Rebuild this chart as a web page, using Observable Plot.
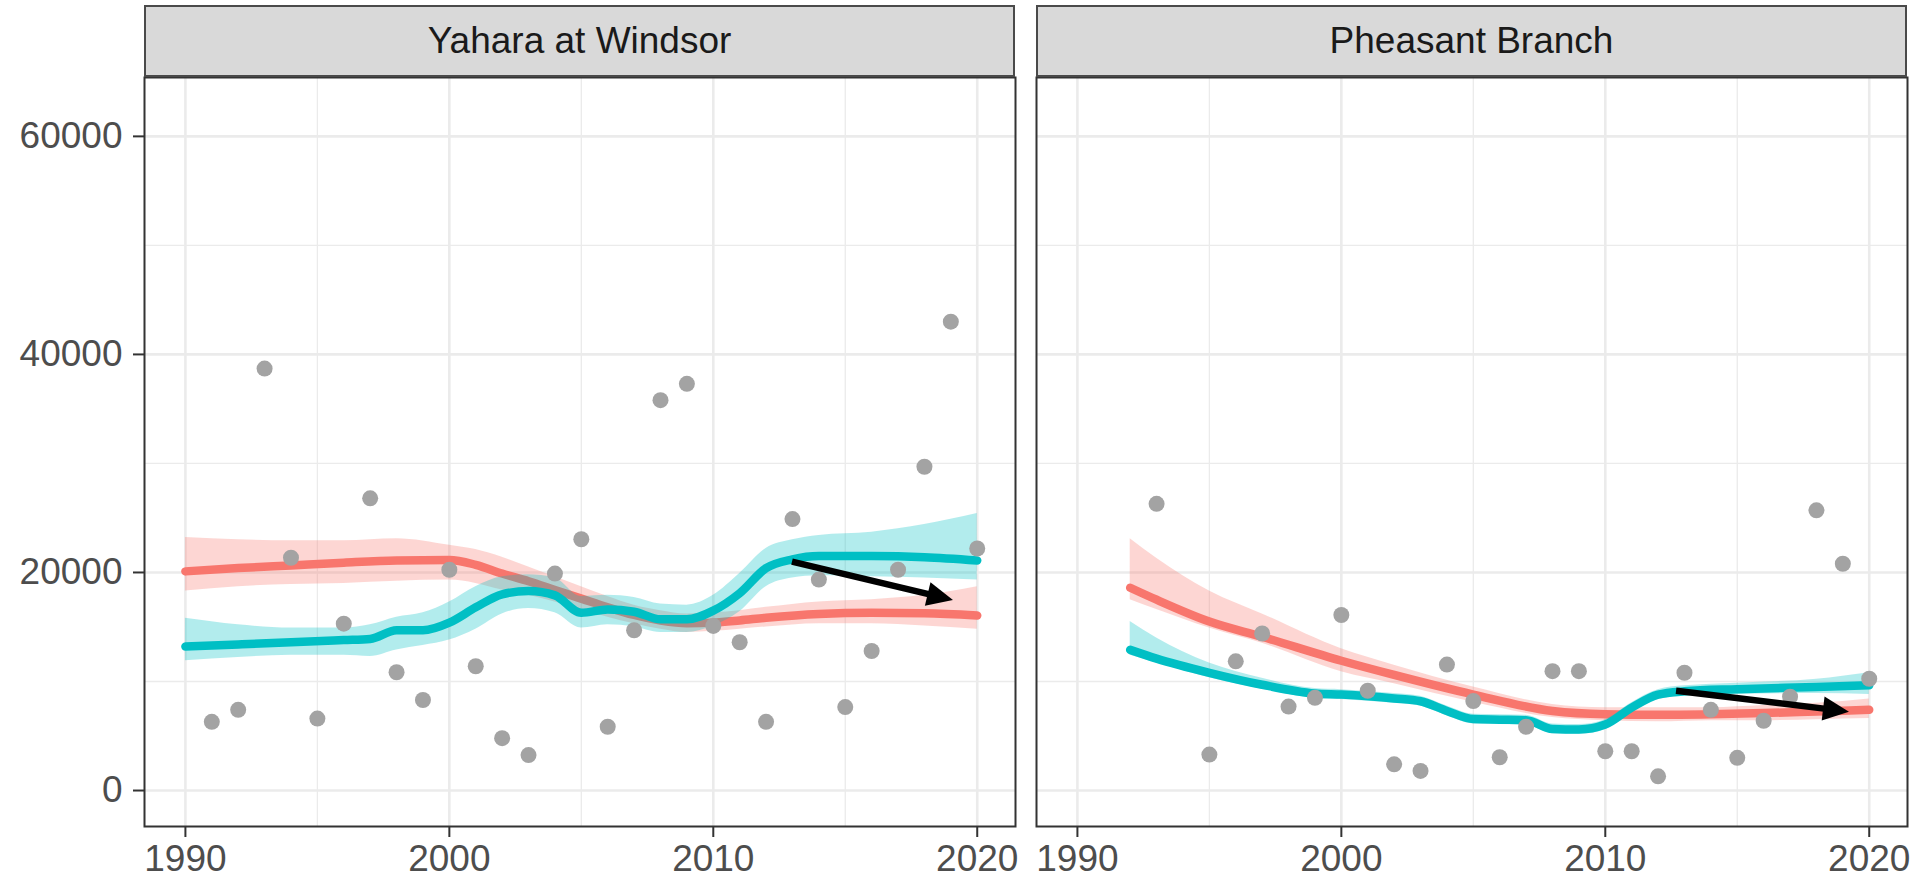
<!DOCTYPE html>
<html>
<head>
<meta charset="utf-8">
<script src="https://cdn.jsdelivr.net/npm/d3@7"></script>
<script src="https://cdn.jsdelivr.net/npm/@observablehq/plot@0.6"></script>
<style>
  body { margin: 0; background: #fff; font-family: "Liberation Sans", Arial, sans-serif; }
  #wrap { position: relative; width: 1921px; height: 879px; overflow: hidden; background: #fff; }
  .strip { position: absolute; top: 5px; height: 72px; box-sizing: border-box; background: #D9D9D9;
           border: 2px solid #4a4a4a; display: flex; align-items: center; justify-content: center;
           font-size: 37px; color: #1A1A1A; font-family: "Liberation Sans", Arial, sans-serif; }
  .panel { position: absolute; top: 77px; }
</style>
</head>
<body>
<div id="wrap"></div>
<script>
// ---------- data ----------
const sites = ["Yahara at Windsor", "Pheasant Branch"];

const xTicks = [1990, 2000, 2010, 2020];
const xMinorTicks = [1995, 2005, 2015];
const yTicks = [0, 20000, 40000, 60000];
const yMinorTicks = [10000, 30000, 50000];

// observed annual values (grey points)
const yaharaYears = [1991,1992,1993,1994,1995,1996,1997,1998,1999,2000,2001,2002,2003,2004,2005,2006,2007,2008,2009,2010,2011,2012,2013,2014,2015,2016,2017,2018,2019,2020];
const yaharaValues = [6300,7400,38700,21350,6600,15300,26800,10850,8300,20250,11400,4800,3250,19900,23050,5850,14700,35800,37300,15100,13600,6300,24900,19350,7650,12800,20250,29700,43000,22200];

const pheasantYears = [1993,1995,1996,1997,1998,1999,2000,2001,2002,2003,2004,2005,2006,2007,2008,2009,2010,2011,2012,2013,2014,2015,2016,2017,2018,2019,2020];
const pheasantValues = [26300,3300,11850,14400,7700,8500,16100,9150,2400,1800,11550,8200,3050,5850,10950,10950,3600,3600,1300,10800,7400,3000,6400,8600,25700,20800,10250];

// smoothed fits (red series)
const yaharaRedYears = [1990,1992,1994,1996,1998,2000,2001,2002,2003,2004,2005,2006,2007,2008,2009,2010,2011,2012,2014,2016,2018,2020];
const yaharaRedFit   = [20100,20400,20650,20900,21100,21150,20700,19900,19200,18400,17600,16800,16100,15600,15350,15400,15600,15850,16200,16300,16250,16050];
const yaharaRedLow   = [18300,18700,18900,19000,19200,19300,19000,18400,17900,17300,16600,15900,15300,14800,14500,14600,14800,15000,15300,15300,15100,14800];
const yaharaRedHigh  = [23200,23000,22900,22900,23100,22500,22100,21400,20500,19600,18700,17800,17000,16500,16200,16300,16500,16800,17300,17500,17900,18700];

// smoothed fits (teal series)
const yaharaTealYears = [1990,1992,1994,1996,1997,1998,1999,2000,2001,2002,2003,2004,2005,2006,2007,2008,2009,2010,2011,2012,2013,2014,2016,2018,2020];
const yaharaTealFit   = [13200,13400,13600,13800,13900,14700,14700,15400,16800,18000,18300,17900,16300,16600,16400,15700,15700,16500,18100,20400,21200,21500,21500,21400,21100];
const yaharaTealLow   = [11900,12200,12400,12400,12300,12900,13300,13800,14800,16200,16700,16300,14900,15200,15000,14500,14500,15100,16400,18700,19500,19700,19600,19500,19300];
const yaharaTealHigh  = [15800,15200,14900,14900,15200,15900,16300,17300,18700,19600,19800,19500,17800,17900,17700,17100,17000,17900,19900,22200,23000,23400,23700,24400,25400];

const pheasantRedYears = [1992,1993,1995,1997,2000,2002,2005,2008,2010,2012,2014,2016,2018,2020];
const pheasantRedFit   = [18600,17500,15500,14100,11900,10600,8800,7300,7000,6950,7000,7100,7250,7400];
const pheasantRedLow   = [17500,16600,14900,13500,10900,9800,8100,6700,6400,6300,6400,6400,6500,6600];
const pheasantRedHigh  = [23100,21300,18300,16200,13000,11500,9500,7900,7600,7600,7600,7800,8000,8400];

const pheasantTealYears = [1992,1993,1995,1997,1999,2000,2002,2003,2004,2005,2006,2007,2008,2009,2010,2011,2012,2013,2015,2018,2020];
const pheasantTealFit   = [12900,12100,10800,9700,8900,8800,8450,8190,7300,6550,6500,6450,5650,5600,6050,7600,8800,9100,9300,9500,9650];
const pheasantTealLow   = [12400,11700,10350,9300,8450,8350,8000,7750,6850,6100,6050,6000,5200,5150,5600,7150,8350,8650,8800,8900,8800];
const pheasantTealHigh  = [15500,14000,11700,10300,9350,9250,8900,8650,7750,7000,6950,6900,6100,6050,6500,8050,9250,9600,9850,10200,10800];

// trend arrows
const arrowStartYear = [2013.0, 2012.7];
const arrowStartValue = [20950, 9100];
const arrowEndYear = [2019.1, 2019.25];
const arrowEndValue = [17430, 7190];

const seriesColors = ["#F8766D", "#00BFC4"];

// ---------- helpers ----------
function zipFit(years, fit, lo, hi) {
  return years.map((year, i) => ({year, fit: fit[i], lo: lo[i], hi: hi[i]}));
}
function zipPts(years, vals) {
  return years.map((year, i) => ({year, value: vals[i]}));
}

const panels = [
  {
    points: zipPts(yaharaYears, yaharaValues),
    red: zipFit(yaharaRedYears, yaharaRedFit, yaharaRedLow, yaharaRedHigh),
    teal: zipFit(yaharaTealYears, yaharaTealFit, yaharaTealLow, yaharaTealHigh),
    arrow: {x1: arrowStartYear[0], y1: arrowStartValue[0], x2: arrowEndYear[0], y2: arrowEndValue[0]}
  },
  {
    points: zipPts(pheasantYears, pheasantValues),
    red: zipFit(pheasantRedYears, pheasantRedFit, pheasantRedLow, pheasantRedHigh),
    teal: zipFit(pheasantTealYears, pheasantTealFit, pheasantTealLow, pheasantTealHigh),
    arrow: {x1: arrowStartYear[1], y1: arrowStartValue[1], x2: arrowEndYear[1], y2: arrowEndValue[1]}
  }
];

function arrowMark(a) {
  return (index, scales) => {
    const g = d3.create("svg:g");
    const x1 = scales.x(a.x1), y1 = scales.y(a.y1), x2 = scales.x(a.x2), y2 = scales.y(a.y2);
    const dx = x2 - x1, dy = y2 - y1, L = Math.hypot(dx, dy);
    const ux = dx / L, uy = dy / L;
    const hl = 26, hw = 12;
    const bx = x2 - ux * hl, by = y2 - uy * hl;
    g.append("line")
      .attr("x1", x1).attr("y1", y1)
      .attr("x2", bx + ux * 3).attr("y2", by + uy * 3)
      .attr("stroke", "black").attr("stroke-width", 6.5);
    g.append("polygon")
      .attr("points", [[x2, y2], [bx - uy * hw, by + ux * hw], [bx + uy * hw, by - ux * hw]].map(p => p.join(",")).join(" "))
      .attr("fill", "black");
    return g.node();
  };
}

const xDomain = [1988.45, 2021.45];
const yDomain = [-3300, 65400];
const innerW = 871;

function makePanel(p, showY) {
  const ml = showY ? 144 : 11;
  const mr = showY ? 10 : 14;
  const marks = [
    Plot.gridX(xMinorTicks, {stroke: "#EBEBEB", strokeOpacity: 1, strokeWidth: 1.3}),
    Plot.gridY(yMinorTicks, {stroke: "#EBEBEB", strokeOpacity: 1, strokeWidth: 1.3}),
    Plot.gridX(xTicks, {stroke: "#EBEBEB", strokeOpacity: 1, strokeWidth: 2.6}),
    Plot.gridY(yTicks, {stroke: "#EBEBEB", strokeOpacity: 1, strokeWidth: 2.6}),
    Plot.areaY(p.red, {x: "year", y1: "lo", y2: "hi", fill: seriesColors[0], fillOpacity: 0.3, curve: "monotone-x"}),
    Plot.line(p.red, {x: "year", y: "fit", stroke: seriesColors[0], strokeWidth: 8.5, curve: "monotone-x"}),
    Plot.areaY(p.teal, {x: "year", y1: "lo", y2: "hi", fill: seriesColors[1], fillOpacity: 0.3, curve: "monotone-x"}),
    Plot.line(p.teal, {x: "year", y: "fit", stroke: seriesColors[1], strokeWidth: 8.5, curve: "monotone-x"}),
    Plot.dot(p.points, {x: "year", y: "value", r: 8, fill: "#A3A3A3", stroke: "none"}),
    arrowMark(p.arrow),
    Plot.frame({stroke: "#333333", strokeWidth: 2}),
    Plot.axisX(xTicks, {tickSize: 11, tickPadding: 7, strokeWidth: 2, stroke: "#333333", fill: "#4D4D4D", tickFormat: d => String(d), label: null})
  ];
  if (showY) {
    marks.push(Plot.axisY(yTicks, {tickSize: 11, tickPadding: 11, strokeWidth: 2, stroke: "#333333", fill: "#4D4D4D", tickFormat: d => String(d), label: null}));
  }
  return Plot.plot({
    width: ml + innerW + mr,
    height: 802,
    marginLeft: ml,
    marginRight: mr,
    marginTop: 0,
    marginBottom: 53,
    x: {domain: xDomain},
    y: {domain: yDomain, axis: showY ? undefined : null},
    style: {fontFamily: "'Liberation Sans', Arial, sans-serif", fontSize: "37px", color: "#4D4D4D", background: "white", overflow: "visible"},
    marks
  });
}

const wrap = document.getElementById("wrap");
const lefts = [0, 1025];
const stripLefts = [144, 1036];
panels.forEach((p, i) => {
  const strip = document.createElement("div");
  strip.className = "strip";
  strip.style.left = stripLefts[i] + "px";
  strip.style.width = innerW + "px";
  strip.textContent = sites[i];
  const chart = makePanel(p, i === 0);
  chart.classList.add("panel");
  chart.style.left = lefts[i] + "px";
  wrap.appendChild(chart);
  wrap.appendChild(strip);
});
</script>
</body>
</html>
